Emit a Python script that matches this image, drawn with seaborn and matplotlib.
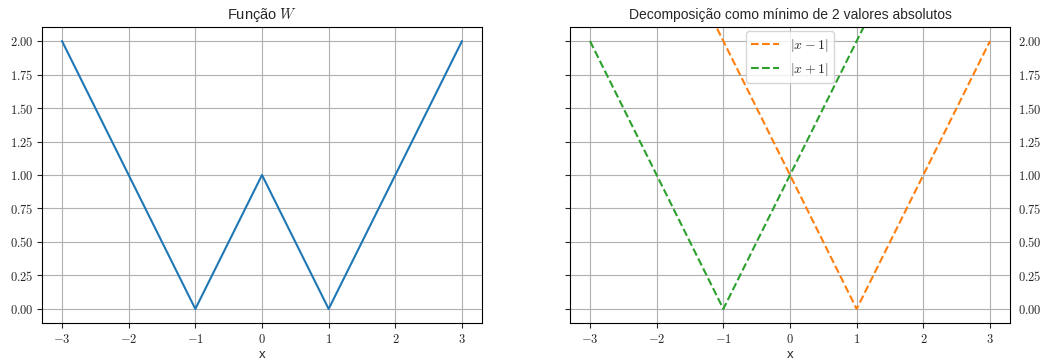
import matplotlib
matplotlib.use("Agg")
import matplotlib.pyplot as plt
import seaborn as sns
from matplotlib.ticker import FuncFormatter, FixedLocator

# Data
x_w = [-3, -1, 0, 1, 3]
w_vals = [2, 0, 1, 0, 2]
x_abs = [-3, 1, 3]
abs_minus = [4, 0, 2]   # |x-1|
x_absp = [-3, -1, 3]
abs_plus = [2, 0, 4]    # |x+1|
xticks = [-3, -2, -1, 0, 1, 2, 3]
yticks = [0.0, 0.25, 0.5, 0.75, 1.0, 1.25, 1.5, 1.75, 2.0]

sns.set_style("white")
plt.rcParams['font.family'] = ['Liberation Sans', 'DejaVu Sans']
plt.rcParams['mathtext.fontset'] = 'cm'
plt.rcParams['font.size'] = 10

DPI = 100
W, H = 1042, 362
fig = plt.figure(figsize=(W / DPI, H / DPI), dpi=DPI)
ax1 = fig.add_axes([42 / W, 1 - 323 / H, 440 / W, 296 / H])
ax2 = fig.add_axes([570 / W, 1 - 323 / H, 440 / W, 296 / H], sharey=ax1)

c = sns.color_palette("tab10")

sns.lineplot(x=x_w, y=w_vals, ax=ax1, color=c[0], linewidth=1.5)
sns.lineplot(x=x_abs, y=abs_minus, ax=ax2, color=c[1], linewidth=1.5,
             linestyle="--", label=r"$|x-1|$")
sns.lineplot(x=x_absp, y=abs_plus, ax=ax2, color=c[2], linewidth=1.5,
             linestyle="--", label=r"$|x+1|$")

fmt_x = FuncFormatter(lambda v, p: r"$%d$" % int(round(v)) if round(v) >= 0 else r"$-%d$" % int(abs(round(v))))
fmt_y = FuncFormatter(lambda v, p: r"$%.2f$" % v)

for ax in (ax1, ax2):
    ax.set_xlim(-3.3, 3.3)
    ax.set_ylim(-0.105, 2.105)
    ax.xaxis.set_major_locator(FixedLocator(xticks))
    ax.yaxis.set_major_locator(FixedLocator(yticks))
    ax.xaxis.set_major_formatter(fmt_x)
    ax.yaxis.set_major_formatter(fmt_y)
    ax.grid(True, color="#b0b0b0", linewidth=0.8)
    ax.set_xlabel("x", fontsize=9.5, labelpad=2)
    ax.set_ylabel("")
    ax.tick_params(axis='both', which='major', length=3.5, width=0.8,
                   direction='out', bottom=True, left=True, labelsize=9)
    ax.tick_params(axis='y', pad=2.5)
    for s in ax.spines.values():
        s.set_color("black")
        s.set_linewidth(0.8)

ax2.tick_params(axis='y', labelleft=False, labelright=True, right=False, left=True)

ax1.set_title(r"Função $W$", fontsize=10.5)
ax2.set_title("Decomposição como mínimo de 2 valores absolutos", fontsize=10)

ax2.legend(loc="upper center", fontsize=10, framealpha=0.8, edgecolor="#cccccc",
           handlelength=2.0, borderaxespad=0.3)

fig.savefig("out.png", dpi=DPI)
